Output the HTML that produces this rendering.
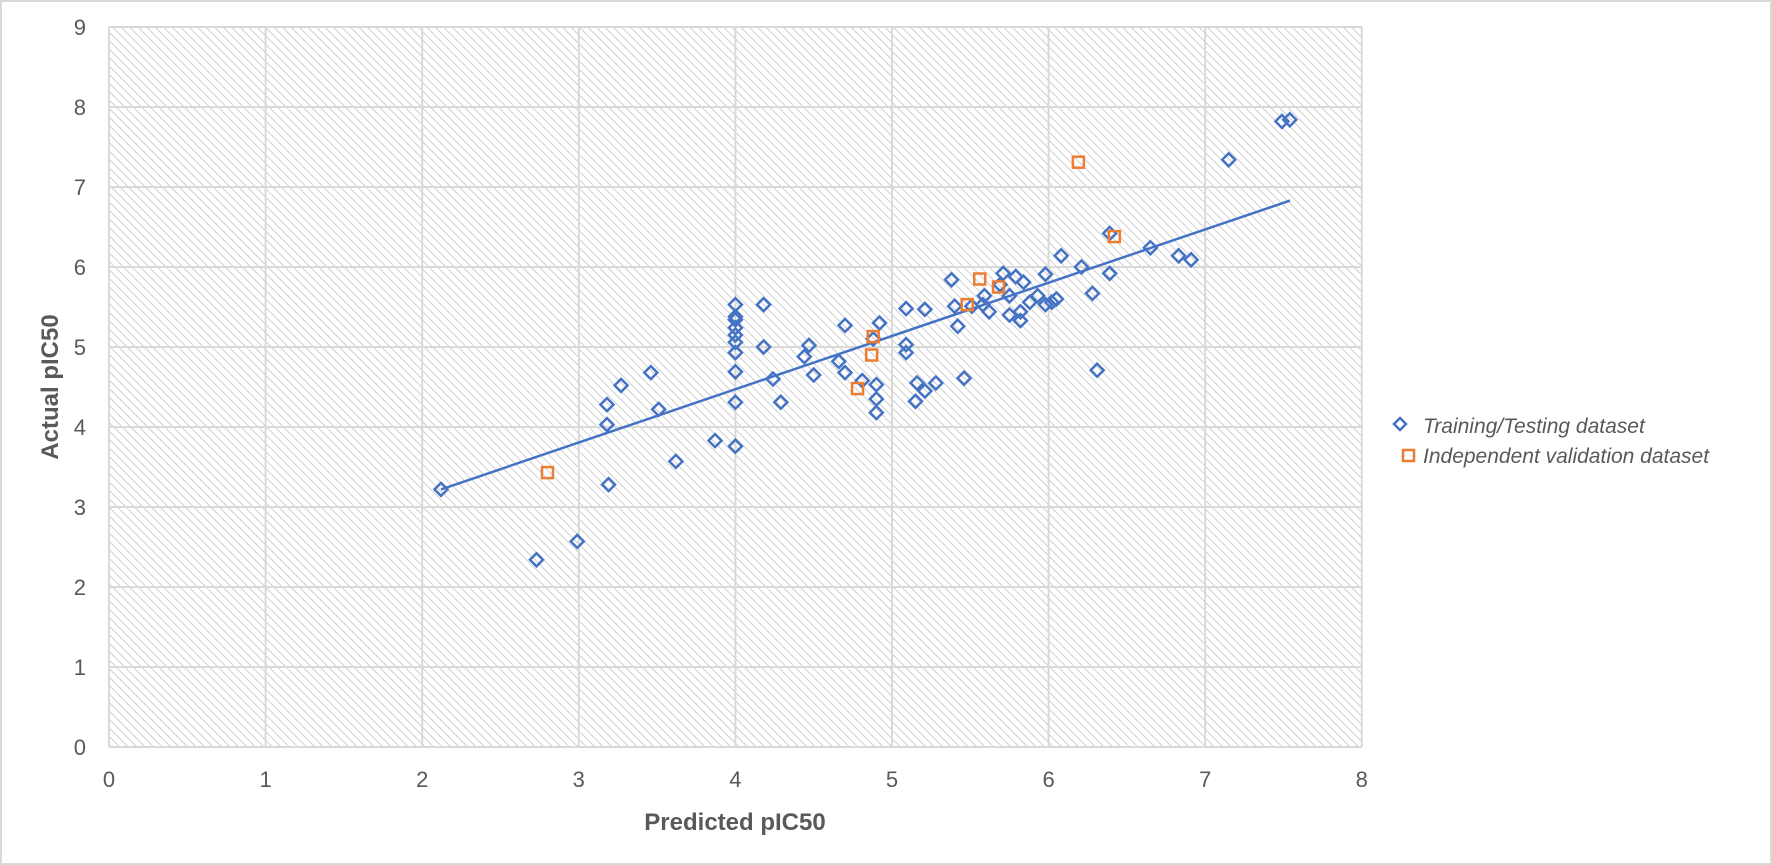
<!DOCTYPE html>
<html><head><meta charset="utf-8"><style>
html,body{margin:0;padding:0;background:#fff;}
svg{display:block;}
text{font-family:"Liberation Sans",sans-serif;fill:#595959;}
</style></head><body>
<svg id="s" width="1772" height="865" viewBox="0 0 1772 865" xmlns="http://www.w3.org/2000/svg">
<defs>
<pattern id="h" patternUnits="userSpaceOnUse" width="6" height="6" patternTransform="rotate(-45)">
<rect width="6" height="6" fill="#fff"/>
<line x1="0" y1="0" x2="0" y2="6" stroke="#cfcfcf" stroke-width="2"/>
</pattern>
</defs>
<rect x="1" y="1" width="1770" height="863" fill="#fff" stroke="#d9d9d9" stroke-width="2"/>
<rect x="109" y="27" width="1253" height="720" fill="url(#h)"/>
<g id="grid" stroke="#d9d9d9" stroke-width="2"></g>
<g id="lab" font-size="22"></g>
<text x="735" y="830" font-size="24" font-weight="bold" text-anchor="middle">Predicted pIC50</text>
<text transform="translate(58,387) rotate(-90)" font-size="24" font-weight="bold" text-anchor="middle">Actual pIC50</text>
<line x1="441" y1="489.4" x2="1290" y2="200.6" stroke="#4472C4" stroke-width="2.5"/>
<g id="pts" fill="none" stroke-width="2.5"></g>
<path d="M1400 418 l6 6 l-6 6 l-6 -6 z" fill="none" stroke="#4472C4" stroke-width="2.5"/>
<text x="1423" y="433" font-size="21" font-style="italic" fill="#404040">Training/Testing dataset</text>
<rect x="1403" y="450" width="11" height="11" fill="none" stroke="#ED7D31" stroke-width="2.5"/>
<text x="1423" y="463" font-size="21" font-style="italic" fill="#404040">Independent validation dataset</text>
</svg>
<script>
var NS="http://www.w3.org/2000/svg";
function X(x){return 109+156.6*x;} function Y(y){return 747-80*y;}
function el(p,t,a){var e=document.createElementNS(NS,t);for(var k in a)e.setAttribute(k,a[k]);p.appendChild(e);return e;}
var g=document.getElementById('grid'),l=document.getElementById('lab');
for(var i=0;i<=8;i++){el(g,'line',{x1:X(i),y1:27,x2:X(i),y2:747});var t=el(l,'text',{x:X(i),y:787,'text-anchor':'middle'});t.textContent=i;}
for(var j=0;j<=9;j++){el(g,'line',{x1:109,y1:Y(j),x2:1362,y2:Y(j)});var t=el(l,'text',{x:86,y:Y(j)+8,'text-anchor':'end'});t.textContent=j;}
var tr=[[2.12,3.22],[2.73,2.34],[2.99,2.57],[3.18,4.28],[3.18,4.03],[3.19,3.28],[3.27,4.52],[3.46,4.68],[3.51,4.22],[3.62,3.57],[3.87,3.83],[4,3.76],[4,4.31],[4,4.69],[4,4.93],[4,5.06],[4,5.15],[4,5.24],[4,5.34],[4,5.53],[4,5.38],[4.18,5.53],[4.18,5.0],[4.24,4.6],[4.29,4.31],[4.44,4.88],[4.47,5.02],[4.5,4.65],[4.66,4.82],[4.7,5.27],[4.7,4.68],[4.81,4.58],[4.9,4.53],[4.9,4.35],[4.9,4.18],[4.92,5.3],[4.88,5.1],[5.09,5.48],[5.09,5.03],[5.09,4.93],[5.16,4.55],[5.15,4.32],[5.21,4.45],[5.28,4.55],[5.21,5.47],[5.38,5.84],[5.4,5.51],[5.42,5.26],[5.46,4.61],[5.51,5.51],[5.59,5.64],[5.58,5.53],[5.62,5.44],[5.71,5.92],[5.69,5.78],[5.75,5.4],[5.75,5.64],[5.79,5.88],[5.82,5.33],[5.82,5.44],[5.84,5.81],[5.88,5.56],[5.93,5.64],[5.98,5.53],[5.98,5.91],[6.02,5.56],[6.05,5.6],[6.08,6.14],[6.21,6.0],[6.28,5.67],[6.31,4.71],[6.39,6.42],[6.39,5.92],[6.65,6.24],[6.83,6.14],[6.91,6.09],[7.15,7.34],[7.49,7.82],[7.54,7.84]];
var va=[[2.8,3.43],[4.78,4.48],[4.87,4.9],[4.88,5.13],[5.48,5.53],[5.56,5.85],[5.68,5.75],[6.19,7.31],[6.42,6.38]];
var p=document.getElementById('pts');
tr.forEach(function(d){var x=X(d[0]),y=Y(d[1]);el(p,'path',{d:'M'+x+' '+(y-6.5)+' l6.5 6.5 l-6.5 6.5 l-6.5 -6.5 z',stroke:'#4472C4'});});
va.forEach(function(d){var x=X(d[0]),y=Y(d[1]);el(p,'rect',{x:x-5.5,y:y-5.5,width:11,height:11,stroke:'#ED7D31'});});
</script>
</body></html>
